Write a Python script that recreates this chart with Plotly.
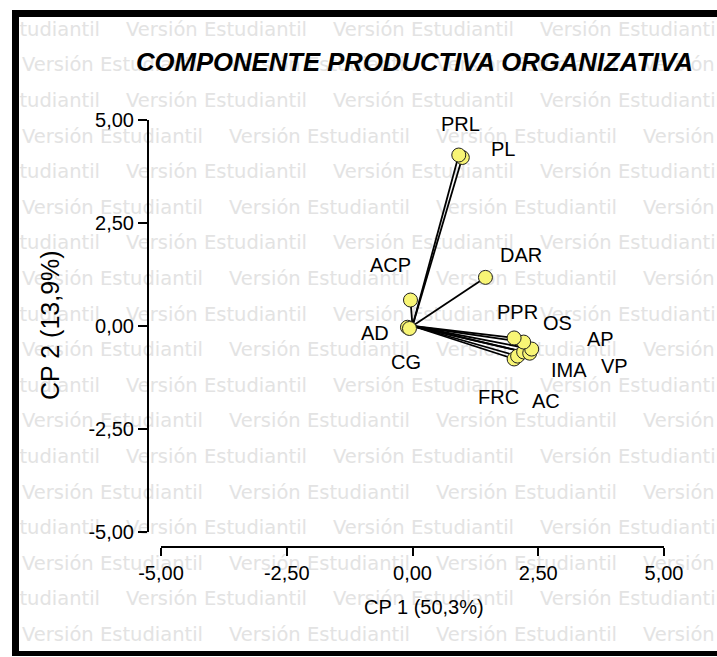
import plotly.graph_objects as go

# Variable loadings on the first two principal components
labels = ["PL", "PRL", "ACP", "DAR", "AD", "CG", "FRC", "AC", "IMA", "VP", "AP", "OS", "PPR"]
cp1 = [0.99, 0.92, -0.04, 1.45, -0.10, -0.06, 2.02, 2.09, 2.21, 2.33, 2.37, 2.21, 2.02]
cp2 = [4.09, 4.15, 0.63, 1.18, -0.03, -0.06, -0.80, -0.73, -0.63, -0.66, -0.56, -0.39, -0.29]

# Label placement offsets in screen pixels (dx right, dy down)
label_dx = [41, 2, -20, 36, -32, -3, -16, 28, 45, 85, 69, 34, 3]
label_dy = [-8, -31, -35, -22, 6, 34, 38, 45, 18, 13, -10, -19, -26]

tick_vals = [-5, -2.5, 0, 2.5, 5]
tick_text = ["-5,00", "-2,50", "0,00", "2,50", "5,00"]

title_text = "COMPONENTE PRODUCTIVA ORGANIZATIVA"
x_title = "CP 1 (50,3%)"
y_title = "CP 2 (13,9%)"
watermark = "Versión Estudiantil"

W, H = 717, 657
FONT = "Liberation Sans, Arial, sans-serif"

fig = go.Figure()

# Background watermark layer on a full-frame pixel subplot
wm_x, wm_y, wm_t = [], [], []
for k in range(18):
    yc = 31 + 35.6 * k
    start = 22 if k % 2 == 1 else 22 - 103
    xs = start
    while xs < W:
        wm_x.append(xs)
        wm_y.append(yc)
        wm_t.append(watermark)
        xs += 207
fig.add_trace(go.Scatter(
    x=wm_x, y=wm_y, text=wm_t, mode="text", textposition="middle right",
    textfont=dict(family="DejaVu Sans", size=19.5, color="#e3e3e3"),
    xaxis="x", yaxis="y", hoverinfo="skip", cliponaxis=True,
))

# Vectors from the origin to every variable
lx, ly = [], []
for a, b in zip(cp1, cp2):
    lx += [0, a, None]
    ly += [0, b, None]
fig.add_trace(go.Scatter(
    x=lx, y=ly, mode="lines", line=dict(color="black", width=1.8),
    xaxis="x2", yaxis="y2", hoverinfo="skip",
))
fig.add_trace(go.Scatter(
    x=cp1, y=cp2, mode="markers", text=labels,
    marker=dict(size=14, color="#f8f575", line=dict(color="#202020", width=1)),
    xaxis="x2", yaxis="y2",
))

annotations = []
for name, a, b, dx, dy in zip(labels, cp1, cp2, label_dx, label_dy):
    annotations.append(dict(
        x=a, y=b, xref="x2", yref="y2", text=name, showarrow=False,
        xshift=dx, yshift=-dy, xanchor="center", yanchor="middle",
        font=dict(family=FONT, size=20, color="black"),
    ))
annotations.append(dict(
    x=424 / W, y=1 - 607 / H, xref="paper", yref="paper", text=x_title,
    showarrow=False, xanchor="center", yanchor="middle",
    font=dict(family=FONT, size=20, color="black"),
))
annotations.append(dict(
    x=50 / W, y=1 - 325 / H, xref="paper", yref="paper", text=y_title,
    showarrow=False, xanchor="center", yanchor="middle", textangle=-90,
    font=dict(family=FONT, size=25, color="black"),
))

# Frame around the whole chart (open on the right)
def prect(x0, y0, x1, y1, color="black"):
    return dict(type="rect", xref="paper", yref="paper",
                x0=x0 / W, x1=x1 / W, y0=1 - y1 / H, y1=1 - y0 / H,
                fillcolor=color, line=dict(width=0), layer="above")

shapes = [
    prect(12, 10, W, 17),
    prect(12, 10, 19, 656),
    prect(12, 651, W, 656),
]

axis_common = dict(
    range=[-5, 5], tickvals=tick_vals, ticktext=tick_text, ticks="outside",
    tickwidth=2, tickcolor="black", showline=True, linecolor="black",
    linewidth=2, showgrid=False, zeroline=False, automargin=False, mirror=False,
    tickfont=dict(family=FONT, size=20, color="black"),
)

fig.update_layout(
    template="none",
    width=W, height=H, margin=dict(l=0, r=0, t=0, b=0, pad=0, autoexpand=False),
    paper_bgcolor="white", plot_bgcolor="rgba(0,0,0,0)", showlegend=False,
    title=dict(
        text=title_text, x=414.5 / W, y=1 - 62 / H, xref="paper", yref="paper",
        xanchor="center", yanchor="middle", automargin=False,
        font=dict(family=FONT, size=25.7, color="black", weight="bold", style="italic"),
    ),
    xaxis=dict(domain=[19 / W, 1], range=[19, W], visible=False, fixedrange=True,
               automargin=False, showline=False, zeroline=False, showgrid=False),
    yaxis=dict(domain=[1 - 651 / H, 1 - 17 / H], range=[651, 17], visible=False,
               fixedrange=True, automargin=False, showline=False, zeroline=False,
               showgrid=False),
    xaxis2=dict(domain=[161 / W, 664 / W], anchor="free", position=1 - 547 / H,
                ticklen=8, **axis_common),
    yaxis2=dict(domain=[1 - 532 / H, 1 - 120 / H], anchor="free", position=148 / W,
                ticklen=9, **axis_common),
    annotations=annotations,
    shapes=shapes,
)

fig.write_html("out.html", config={"displayModeBar": False})
